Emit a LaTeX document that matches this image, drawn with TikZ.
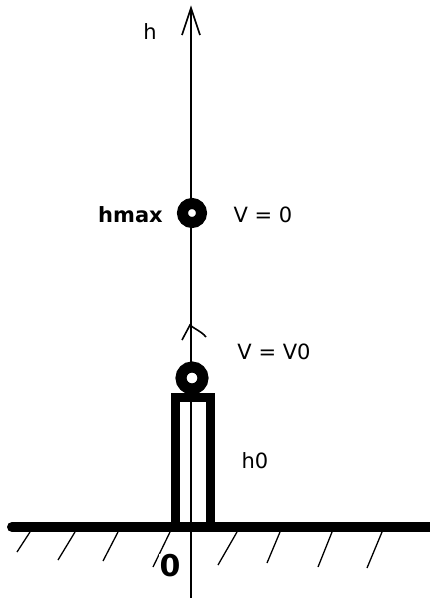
\documentclass[tikz,border=0pt]{standalone}
\usepackage{fontspec}
\setmainfont{DejaVu Sans}
\begin{document}
\begin{tikzpicture}[x=1pt,y=-1pt,
  lbl/.style={inner sep=0pt,font=\fontsize{21}{23}\selectfont},
  ring/.style={draw=black,line width=11pt,fill=white,circle,inner sep=0pt},
  hatch/.style={line width=1.3pt},
  thin/.style={line width=1.6pt}]
\useasboundingbox (0,0) rectangle (430,598);
\fill[white] (0,0) rectangle (430,598);
% axis
\coordinate (axb) at (191,598);
\coordinate (axt) at (191,8);
\coordinate (awl) at (182,35);
\coordinate (awr) at (200,35);
\draw[thin] (axb) -- (axt);
\draw[thin,line join=miter] (awl) -- (axt) -- (awr);
% small chevron
\coordinate (ct) at (190,325);
\coordinate (cl) at (182,340);
\coordinate (cr) at (206,337);
\draw[thin] (cl) -- (ct) .. controls (196,330) and (201,331) .. (cr);
% ground
\coordinate (gl) at (12,527);
\coordinate (gr) at (432,527);
\draw[line width=10pt,line cap=round] (gl) -- (gr);
% pillar
\draw[line width=9.5pt] (175.5,527) -- (175.5,397.5) -- (210.5,397.5) -- (210.5,527);
\draw[thin] (191,397) -- (191,530);
% hatches
\foreach \xt/\xb/\yb [count=\i] in {30/17/552,75/58/560,118/103/561,170/153/567,237/218/565,280/267/563,332/318/567,382/367/568}{
  \coordinate (ht\i) at (\xt,532);
  \coordinate (hb\i) at (\xb,\yb);
  \draw[hatch] (ht\i) -- (hb\i);
}
% rings
\node[ring,minimum size=19pt] (top) at (192,213) {};
\node[ring,minimum size=22pt] (bot) at (192,378) {};
% labels
\node[lbl] (h) at (150,32) {h};
\node[lbl,font=\fontsize{21}{23}\selectfont\bfseries] (hmax) at (130.5,215) {hmax};
\node[lbl] (v0) at (263,215) {V = 0};
\node[lbl] (vv0) at (274,352) {V = V0};
\node[lbl] (h0) at (255,461) {h0};
\node[lbl,fill=white,inner sep=1pt,font=\fontsize{30}{32}\selectfont\bfseries] (zero) at (170,566) {0};
\end{tikzpicture}
\end{document}
